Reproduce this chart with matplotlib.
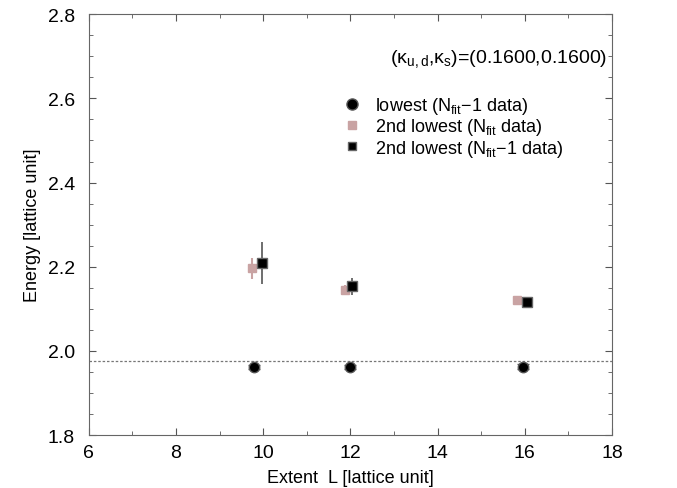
import matplotlib
matplotlib.use("Agg")
import matplotlib.pyplot as plt
from matplotlib.lines import Line2D
from matplotlib.ticker import MultipleLocator

plt.rcParams['font.family'] = ['Liberation Sans', 'DejaVu Sans']
plt.rcParams['mathtext.fontset'] = 'custom'
plt.rcParams['mathtext.rm'] = 'Liberation Sans'
plt.rcParams['mathtext.it'] = 'Liberation Sans'
plt.rcParams['mathtext.default'] = 'rm'

# lowest state, N_fit-1 data
L_low = [9.8, 12.0, 15.97]
E_low = [1.962, 1.962, 1.963]
err_low = [0.005, 0.005, 0.005]

# 2nd lowest, N_fit data
L_2nd = [9.75, 11.88, 15.82]
E_2nd = [2.197, 2.145, 2.121]
err_2nd = [0.025, 0.012, 0.008]

# 2nd lowest, N_fit-1 data
L_2nd_m1 = [9.97, 12.04, 16.05]
E_2nd_m1 = [2.208, 2.154, 2.117]
err_2nd_m1 = [0.05, 0.02, 0.01]

threshold = 1.977
pink = '#c9a3a3'

fig = plt.figure(figsize=(6.77, 4.89), dpi=100)
ax = fig.add_axes([0.131, 0.108, 0.773, 0.861])

ax.axhline(threshold, color='#777777', ls=(0, (2, 1.5)), lw=0.9)

ax.errorbar(L_2nd, E_2nd, yerr=err_2nd, fmt='s', ms=6, color=pink,
            mec=pink, ecolor=pink, elinewidth=1.5, capsize=0)
ax.errorbar(L_2nd_m1, E_2nd_m1, yerr=err_2nd_m1, fmt='s', ms=7, color='black',
            mec='#666666', ecolor='#555555', elinewidth=1.2, capsize=0)
ax.errorbar(L_low, E_low, yerr=err_low, fmt='o', ms=7.5, color='black',
            mec='#555555', ecolor='#555555', elinewidth=1.0, capsize=4)

ax.set_xlim(6, 18)
ax.set_ylim(1.8, 2.8)
ax.xaxis.set_major_locator(MultipleLocator(2))
ax.xaxis.set_minor_locator(MultipleLocator(1))
ax.yaxis.set_major_locator(MultipleLocator(0.2))
ax.yaxis.set_minor_locator(MultipleLocator(0.05))
ax.yaxis.set_major_formatter(plt.FormatStrFormatter('%.1f'))
ax.tick_params(which='both', direction='in', top=True, right=True,
               color='#555555', labelsize=14)
ax.tick_params(axis='y', pad=10)
ax.tick_params(axis='x', pad=6)
ax.tick_params(which='major', length=5)
ax.tick_params(which='minor', length=3)
for s in ax.spines.values():
    s.set_color('#666666')

ax.set_xlabel('Extent  L [lattice unit]', fontsize=13, labelpad=6)
ax.set_ylabel('Energy [lattice unit]', fontsize=13, labelpad=5)

ax.text(12.9, 2.695, r'($\kappa_{\rm u,d}$,$\kappa_{\rm s}$)=(0.1600,0.1600)',
        fontsize=14, va='center')

handles = [
    Line2D([], [], ls='none', marker='o', ms=8, color='black', mec='#555555'),
    Line2D([], [], ls='none', marker='s', ms=6, color=pink, mec=pink),
    Line2D([], [], ls='none', marker='s', ms=6, color='black', mec='#666666'),
]
labels = [
    r'lowest (N$_{\rm fit}$$-$1 data)',
    r'2nd lowest (N$_{\rm fit}$ data)',
    r'2nd lowest (N$_{\rm fit}$$-$1 data)',
]
ax.legend(handles, labels, loc='upper left', bbox_to_anchor=(0.472, 0.825),
          frameon=False, fontsize=13, handlelength=1.0, handletextpad=0.8,
          labelspacing=0.02, borderaxespad=0)

fig.savefig('out.png', dpi=100)
